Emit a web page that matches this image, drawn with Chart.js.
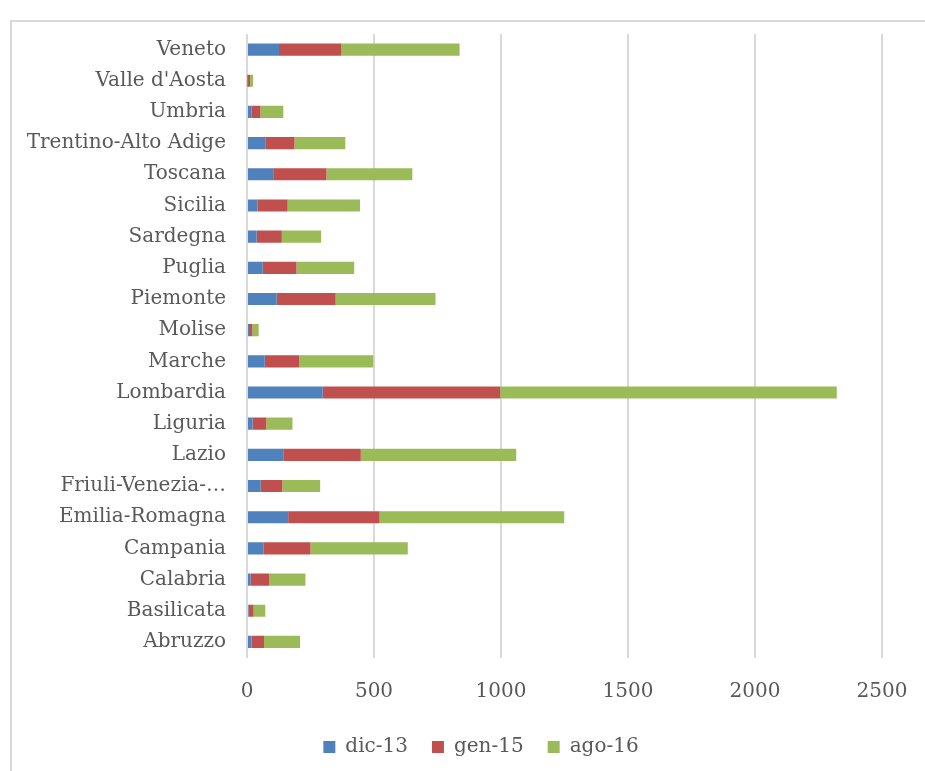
<!DOCTYPE html>
<html>
<head>
<meta charset="utf-8">
<script src="https://cdn.jsdelivr.net/npm/chart.js@4/dist/chart.umd.min.js"></script>
<style>
  html, body { margin: 0; padding: 0; background: #fff; overflow: hidden; }
  #wrap { position: relative; width: 925px; height: 771px; overflow: hidden; }
  #frame { position: absolute; left: 10px; top: 20px; width: 1000px; height: 1000px; border: 2px solid #d9d9d9; box-sizing: border-box; }
  canvas { position: absolute; left: 0; top: 0; }
</style>
</head>
<body>
<div id="wrap">
  <div id="frame"></div>
  <canvas id="c" width="925" height="771"></canvas>
</div>
<script>
const categories = ["Veneto", "Valle d'Aosta", "Umbria", "Trentino-Alto Adige", "Toscana", "Sicilia", "Sardegna", "Puglia", "Piemonte", "Molise", "Marche", "Lombardia", "Liguria", "Lazio", "Friuli-Venezia-…", "Emilia-Romagna", "Campania", "Calabria", "Basilicata", "Abruzzo"];
const dic13 = [126, 2, 17, 72, 103, 41, 38, 62, 117, 8, 70, 298, 22, 145, 54, 162, 66, 14, 6, 18];
const gen15 = [246, 10, 36, 115, 210, 119, 99, 133, 232, 13, 136, 699, 54, 303, 85, 360, 184, 74, 20, 49];
const ago16 = [465, 12, 90, 200, 338, 285, 155, 227, 393, 25, 291, 1325, 103, 612, 149, 727, 383, 142, 46, 142];
const seriesNames = ["dic-13", "gen-15", "ago-16"];
const xTicks = [0, 500, 1000, 1500, 2000, 2500];

const FONT = "'DejaVu Serif', serif";
const TXT = "#595959";

// place legend: centre x ~481, item centre y ~745
const legendPlacer = {
  id: 'legendPlacer',
  afterLayout(chart) {
    const lg = chart.legend;
    if (!lg) return;
    const dx = 481 - (lg.left + lg.right) / 2;
    const dy = -4;
    lg.left += dx; lg.right += dx;
    lg.top += dy; lg.bottom += dy;
    if (lg.legendHitBoxes) lg.legendHitBoxes.forEach(b => { b.left += dx; b.top += dy; });
  }
};

new Chart(document.getElementById('c'), {
  type: 'bar',
  data: {
    labels: categories,
    datasets: [
      { label: seriesNames[0], data: dic13, backgroundColor: '#4f81bd' },
      { label: seriesNames[1], data: gen15, backgroundColor: '#c0504d' },
      { label: seriesNames[2], data: ago16, backgroundColor: '#9bbb59' }
    ]
  },
  plugins: [legendPlacer],
  options: {
    indexAxis: 'y',
    responsive: false,
    animation: false,
    devicePixelRatio: 1,
    layout: { padding: { left: 0, right: 43, top: 34, bottom: 0 } },
    datasets: { bar: { barPercentage: 0.39, categoryPercentage: 1.0, borderWidth: 0 } },
    plugins: {
      tooltip: { enabled: false },
      legend: {
        position: 'bottom',
        labels: {
          color: TXT,
          font: { family: FONT, size: 20 },
          boxWidth: 12,
          boxHeight: 12,
          padding: 24
        }
      }
    },
    scales: {
      x: {
        stacked: true,
        min: 0,
        max: 2500,
        afterBuildTicks: (s) => { s.ticks = xTicks.map(v => ({ value: v })); },
        afterFit: (s) => { s.height = 59.5; s.paddingRight = 0; s.paddingLeft = 0; },
        grid: { color: '#d9d9d9', lineWidth: 2, drawTicks: false },
        border: { display: false },
        ticks: { color: TXT, font: { family: FONT, size: 20 }, padding: 22, callback: (v) => String(v) }
      },
      y: {
        stacked: true,
        afterFit: (s) => { s.width = 247; },
        grid: { display: false, drawTicks: false },
        border: { display: false },
        ticks: { color: TXT, font: { family: FONT, size: 20 }, padding: 21, autoSkip: false }
      }
    }
  }
});
</script>
</body>
</html>
